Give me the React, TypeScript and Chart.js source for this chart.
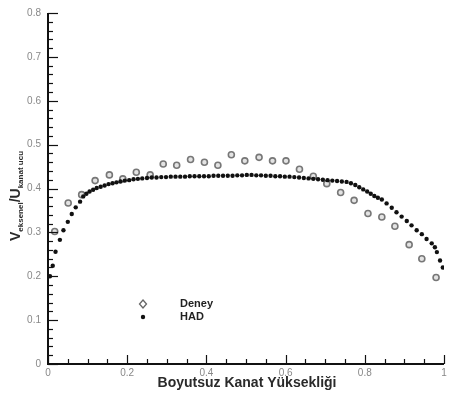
import React, { useEffect, useRef } from "react";
import { Chart, registerables } from "chart.js";

Chart.register(...registerables);

const deneyX = [0.017, 0.051, 0.085, 0.119, 0.155, 0.189, 0.223, 0.258, 0.291, 0.325, 0.36, 0.395, 0.429, 0.463, 0.497, 0.533, 0.567, 0.601, 0.635, 0.67, 0.704, 0.739, 0.773, 0.808, 0.843, 0.876, 0.912, 0.944, 0.98];
const deneyY = [0.302, 0.367, 0.386, 0.418, 0.431, 0.422, 0.437, 0.431, 0.456, 0.453, 0.466, 0.46, 0.453, 0.477, 0.463, 0.471, 0.463, 0.463, 0.444, 0.428, 0.411, 0.391, 0.373, 0.343, 0.335, 0.314, 0.272, 0.24, 0.197];

const hadX = [0.005, 0.012, 0.019, 0.03, 0.039, 0.05, 0.06, 0.07, 0.081, 0.089, 0.097, 0.105, 0.114, 0.123, 0.133, 0.143, 0.153, 0.163, 0.173, 0.183, 0.194, 0.205, 0.216, 0.227, 0.238, 0.25, 0.262, 0.274, 0.286, 0.298, 0.31, 0.322, 0.334, 0.346, 0.358, 0.37, 0.382, 0.394, 0.406, 0.418, 0.43, 0.442, 0.454, 0.466, 0.478, 0.49, 0.502, 0.514, 0.526, 0.538, 0.55, 0.562, 0.574, 0.586, 0.598, 0.61, 0.622, 0.634, 0.646, 0.658, 0.67, 0.682, 0.694, 0.706, 0.718, 0.73, 0.742, 0.754, 0.765, 0.776, 0.786, 0.796, 0.806, 0.815, 0.824, 0.833, 0.843, 0.855, 0.868, 0.88, 0.893, 0.906, 0.918, 0.931, 0.944, 0.956, 0.969, 0.977, 0.982, 0.99, 0.997];
const hadY = [0.2, 0.224, 0.256, 0.283, 0.305, 0.324, 0.342, 0.357, 0.37, 0.382, 0.388, 0.393, 0.397, 0.401, 0.404, 0.407, 0.41, 0.412, 0.414, 0.416, 0.418, 0.419, 0.421, 0.422, 0.423, 0.424, 0.425, 0.425, 0.426, 0.426, 0.427, 0.427, 0.427, 0.427, 0.428, 0.428, 0.428, 0.428, 0.428, 0.429, 0.429, 0.429, 0.429, 0.429, 0.43, 0.43, 0.431, 0.431, 0.43, 0.43, 0.429, 0.429, 0.428, 0.428, 0.427, 0.427, 0.426, 0.425, 0.424, 0.423, 0.422, 0.421, 0.42, 0.419, 0.418, 0.417, 0.416, 0.415, 0.412, 0.408, 0.403, 0.398, 0.393, 0.388, 0.383, 0.379, 0.375, 0.366, 0.356, 0.346, 0.336, 0.326, 0.316, 0.305, 0.296, 0.285, 0.275, 0.266, 0.255, 0.236, 0.22];

const seriesNames = ["Deney", "HAD"];
const xTitle = "Boyutsuz Kanat Yüksekliği";

const FONT = "'Liberation Sans', Arial, sans-serif";

const axesPlugin = {
  id: "axesPlugin",
  afterDraw(chart: any) {
    const { ctx, chartArea, scales } = chart;
    const xs = scales.x;
    const ys = scales.y;
    const L = chartArea.left, R = chartArea.right, T = chartArea.top, B = chartArea.bottom;
    ctx.save();
    ctx.strokeStyle = "#111";
    ctx.lineWidth = 2;
    ctx.beginPath();
    ctx.moveTo(L, T);
    ctx.lineTo(L, B);
    ctx.lineTo(R, B);
    ctx.stroke();
    ctx.lineWidth = 1.2;
    for (let i = 0; i <= 40; i++) {
      const v = i * 0.02;
      const py = Math.round(ys.getPixelForValue(v)) + 0.5;
      const major = i % 5 === 0;
      ctx.beginPath();
      ctx.moveTo(L, py);
      ctx.lineTo(L + (major ? 10 : 5), py);
      ctx.stroke();
    }
    for (let i = 0; i <= 20; i++) {
      const v = i * 0.05;
      const px = Math.round(xs.getPixelForValue(v)) + 0.5;
      const major = i % 4 === 0;
      ctx.beginPath();
      ctx.moveTo(px, B);
      ctx.lineTo(px, B - (major ? 9 : 5));
      ctx.stroke();
    }
    ctx.fillStyle = "#2a2a2a";
    ctx.font = `bold 14px ${FONT}`;
    ctx.textAlign = "center";
    ctx.textBaseline = "middle";
    ctx.fillText(xTitle, 247, 383);
    ctx.save();
    ctx.translate(15, 196);
    ctx.rotate(-Math.PI / 2);
    const parts = [
      { t: "V", sub: false },
      { t: "eksenel", sub: true },
      { t: "/U", sub: false },
      { t: "kanat ucu", sub: true },
    ];
    let total = 0;
    const widths: number[] = [];
    for (const p of parts) {
      ctx.font = p.sub ? `bold 8px ${FONT}` : `bold 14px ${FONT}`;
      const w = ctx.measureText(p.t).width;
      widths.push(w);
      total += w;
    }
    let cx = -total / 2;
    ctx.textAlign = "left";
    ctx.textBaseline = "alphabetic";
    parts.forEach((p, i) => {
      ctx.font = p.sub ? `bold 8px ${FONT}` : `bold 14px ${FONT}`;
      ctx.fillText(p.t, cx, p.sub ? 8 : 5);
      cx += widths[i];
    });
    ctx.restore();
    ctx.font = `bold 11px ${FONT}`;
    ctx.textAlign = "left";
    ctx.textBaseline = "middle";
    ctx.fillStyle = "#222";
    ctx.fillText(seriesNames[0], 180, 304);
    ctx.fillText(seriesNames[1], 180, 317);
    ctx.strokeStyle = "#666";
    ctx.lineWidth = 1.3;
    ctx.beginPath();
    ctx.moveTo(143, 300);
    ctx.lineTo(146.5, 304);
    ctx.lineTo(143, 308);
    ctx.lineTo(139.5, 304);
    ctx.closePath();
    ctx.stroke();
    ctx.fillStyle = "#111";
    ctx.beginPath();
    ctx.arc(143, 317, 2.2, 0, Math.PI * 2);
    ctx.fill();
    ctx.restore();
  },
};

export default function App() {
  const ref = useRef<HTMLCanvasElement | null>(null);
  useEffect(() => {
    if (!ref.current) return;
    const chart = new Chart(ref.current, {
      type: "scatter",
      data: {
        datasets: [
          {
            label: seriesNames[1],
            data: hadX.map((x, i) => ({ x, y: hadY[i] })),
            pointRadius: 2.2,
            pointBackgroundColor: "#111",
            pointBorderWidth: 0,
            showLine: false,
          },
          {
            label: seriesNames[0],
            data: deneyX.map((x, i) => ({ x, y: deneyY[i] })),
            pointStyle: "circle",
            pointRadius: 3,
            pointBackgroundColor: "rgba(200,200,200,0.5)",
            pointBorderColor: "#777",
            pointBorderWidth: 1.6,
            showLine: false,
          },
        ],
      },
      options: {
        animation: false,
        responsive: false,
        maintainAspectRatio: false,
        layout: { padding: { left: 0, right: 7, top: 9, bottom: 0 } },
        plugins: { legend: { display: false }, tooltip: { enabled: false } },
        scales: {
          x: {
            type: "linear",
            min: 0,
            max: 1,
            grid: { display: false, drawTicks: false },
            border: { display: false },
            ticks: {
              stepSize: 0.2,
              padding: 3,
              color: "#888",
              font: { family: FONT, size: 10 },
              callback: (v: any) => (v === 0 ? "0" : v === 1 ? "1" : Number(v).toFixed(1)),
            },
            afterFit: (s: any) => {
              s.height = 32;
            },
          },
          y: {
            type: "linear",
            min: 0,
            max: 0.8,
            grid: { display: false, drawTicks: false },
            border: { display: false },
            ticks: {
              stepSize: 0.1,
              padding: 7,
              color: "#888",
              font: { family: FONT, size: 10 },
              callback: (v: any) => (v === 0 ? "0" : Number(v).toFixed(1)),
            },
            afterFit: (s: any) => {
              s.width = 48;
            },
          },
        },
      },
      plugins: [axesPlugin],
    });
    return () => chart.destroy();
  }, []);
  return (
    <div style={{ position: "fixed", left: 0, top: 0, width: 451, height: 396, background: "#fff" }}>
      <canvas ref={ref} width={451} height={396} style={{ width: 451, height: 396 }} />
    </div>
  );
}
